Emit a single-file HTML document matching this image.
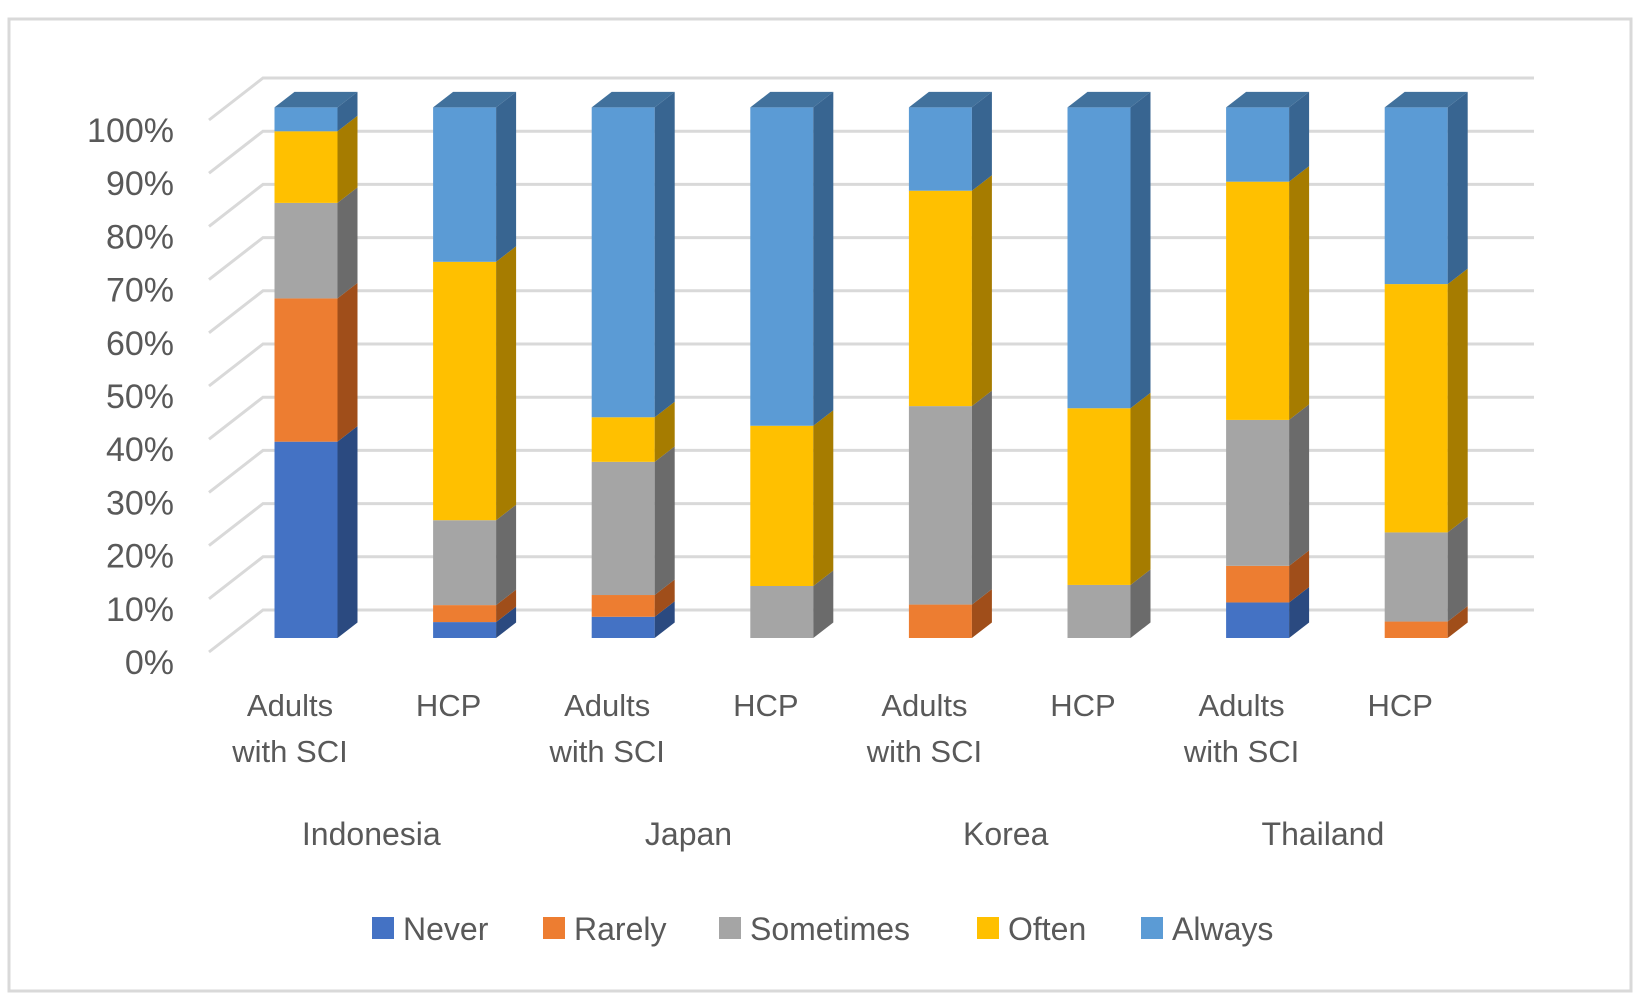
<!DOCTYPE html>
<html><head><meta charset="utf-8"><style>
html,body{margin:0;padding:0;background:#fff;}
svg{display:block;}
text{font-family:"Liberation Sans",sans-serif;fill:#595959;}
</style></head><body>
<svg id="chart" width="1641" height="1008" viewBox="0 0 1641 1008">
<rect x="9" y="19" width="1622" height="972" fill="#fff" stroke="#d9d9d9" stroke-width="3"/>
<g id="grid"></g><g id="bars"></g><g id="labels"></g><g id="legend"></g>
</svg>
<script>
const categories = ["Adults with SCI","HCP","Adults with SCI","HCP","Adults with SCI","HCP","Adults with SCI","HCP"];
const countries = ["Indonesia","Japan","Korea","Thailand"];
const seriesNames = ["Never","Rarely","Sometimes","Often","Always"];
const never     = [37, 3, 4, 0, 0, 0, 6.7, 0];
const rarely    = [27, 3.2, 4.1, 0, 6.3, 0, 6.9, 3.1];
const sometimes = [18, 16, 25.1, 9.8, 37.4, 10, 27.5, 16.8];
const often     = [13.5, 48.7, 8.4, 30.2, 40.6, 33.3, 44.9, 46.8];
const always    = [4.5, 29.1, 58.4, 60, 15.7, 56.7, 14, 33.3];
const yTicks = ["0%","10%","20%","30%","40%","50%","60%","70%","80%","90%","100%"];

const NS="http://www.w3.org/2000/svg";
const series=[never,rarely,sometimes,often,always];
const front=["#4472C4","#ED7D31","#A5A5A5","#FFC000","#5B9BD5"];
const side=["#2B4A80","#A04E1A","#6B6B6B","#A67C00","#386591"];
const topc=["#36609F","#C96824","#8A8A8A","#D9A300","#41719C"];
const y0=638, k=5.306, dx=20, dy=-15.5, bw=63;
const backY0=610, backK=5.32, backX0=263, backX1=1534;
function yF(v){return y0-v*k;}
function yB(v){return backY0-v*backK;}
function xC(i){return 306+i*158.6;}
function el(tag,attrs,parent){const e=document.createElementNS(NS,tag);for(const a in attrs)e.setAttribute(a,attrs[a]);parent.appendChild(e);return e;}
const grid=document.getElementById('grid'),bars=document.getElementById('bars'),labels=document.getElementById('labels'),legend=document.getElementById('legend');
yTicks.forEach((t,j)=>{
  const v=j*10, yb=yB(v);
  const l=el('polyline',{points:`209,${yb+42} ${backX0},${yb} ${backX1},${yb}`,fill:'none',stroke:'#d9d9d9','stroke-width':3},grid);
  
  
  const tx=el('text',{x:174,y:yB(v)+52+12,'font-size':34,'text-anchor':'end'},labels);
  tx.textContent=t;
  
  
});
categories.forEach((c,i)=>{
  const x=xC(i)-bw/2;
  let cum=0;
  series.forEach((s,si)=>{
    const v=s[i]; if(v<=0){return;}
    const yt=yF(cum+v), yb=yF(cum);
    const g=el('g',{},bars);
    
    
    el('rect',{x:x,y:yt,width:bw,height:yb-yt,fill:front[si]},g);
    el('polygon',{points:`${x+bw},${yt} ${x+bw+dx},${yt+dy} ${x+bw+dx},${yb+dy} ${x+bw},${yb}`,fill:side[si]},g);
    cum+=v;
  });
  let last=4; while(last>0&&series[last][i]<=0)last--;
  const yt=yF(cum);
  const tp=el('polygon',{points:`${x},${yt} ${x+dx},${yt+dy} ${x+bw+dx},${yt+dy} ${x+bw},${yt}`,fill:topc[last]},bars);
  
  
  const parts=c==="HCP"?["HCP"]:["Adults","with SCI"];
  parts.forEach((p,pi)=>{
    const t=el('text',{x:xC(i)-16,y:716+pi*46,'font-size':31,'text-anchor':'middle'},labels);
    t.textContent=p;
    
    
  });
});
countries.forEach((c,ci)=>{
  const t=el('text',{x:(xC(ci*2)+xC(ci*2+1))/2-14,y:845,'font-size':32,'text-anchor':'middle'},labels);
  t.textContent=c;
  
  
});
const legX=[372,543,719,977,1141];
seriesNames.forEach((n,si)=>{
  const g=el('g',{},legend);
  
  
  el('rect',{x:legX[si],y:917,width:22,height:22,fill:front[si]},g);
  const t=el('text',{x:legX[si]+31,y:940,'font-size':32},g);
  t.textContent=n;
});
</script>
</body></html>
